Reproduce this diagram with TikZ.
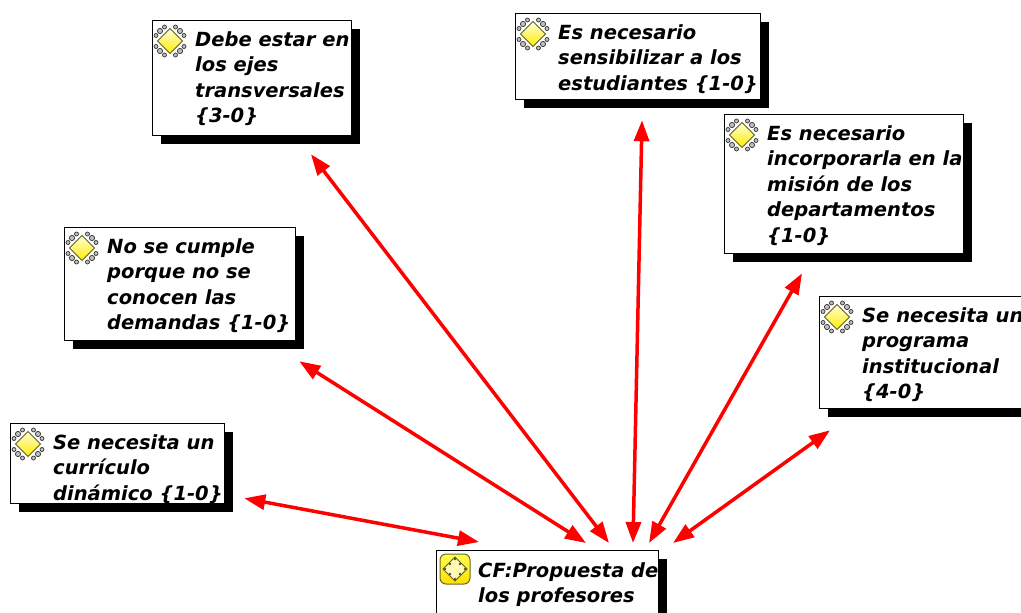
\documentclass[tikz,border=0pt]{standalone}
\usepackage{fontspec}
\setmainfont{DejaVu Sans}
\usetikzlibrary{arrows.meta}
\usetikzlibrary{shadows}

\tikzset{
	box/.style={draw, line width=1.3pt, fill=white, inner sep=0pt, anchor=north west,
		drop shadow={shadow xshift=8pt, shadow yshift=-8pt, fill=black, opacity=1}},
	boxtext/.style={anchor=north west, inner sep=0pt, align=left,
		font=\bfseries\itshape\fontsize{19.5}{25.5}\selectfont},
	link/.style={red, line width=3.5pt,
		{Triangle[length=21pt,width=15pt]}-{Triangle[length=21pt,width=15pt]}},
	idea icon/.pic={
		\foreach \sx in {-1,1} \foreach \sy in {-1,1} {
			\draw [gray!40!black, line width=0.7pt, fill=gray!50] (\sx*10,\sy*10) circle (2.6);
			\draw [gray!40!black, line width=0.7pt, fill=gray!50] (\sx*14,\sy*5.5) circle (2);
			\draw [gray!40!black, line width=0.7pt, fill=gray!50] (\sx*5.5,\sy*14) circle (2);
		}
		\draw [olive!60!black, line width=0.9pt, top color=yellow!15, bottom color=yellow!85!orange]
			(0,-12.5) -- (12.5,0) -- (0,12.5) -- (-12.5,0) -- cycle;
	},
	cf icon/.pic={
		\draw [olive!70!black, line width=1pt, top color=yellow!70, bottom color=yellow!75!orange,
			rounded corners=6pt] (-15,-15) rectangle (15,15);
		\draw [olive!60!black, line width=0.9pt, fill=yellow!30] (0,-12) -- (12,0) -- (0,12) -- (-12,0) -- cycle;
		\foreach \p in {(0,-10),(10,0),(0,10),(-10,0),(5,-5),(5,5),(-5,5),(-5,-5)}
			\fill [black!70] \p circle (1.4);
	}
}

\begin{document}
\begin{tikzpicture}[x=1pt,y=-1pt]
	\useasboundingbox (0,0) rectangle (1021,613);
	\clip (0,0) rectangle (1021,613);

	% boxes
	\node [box, minimum width=199pt, minimum height=115pt] (b1) at (152,20) {};
	\node [box, minimum width=245pt, minimum height=86pt] (b2) at (515,13) {};
	\node [box, minimum width=239pt, minimum height=139pt] (b3) at (724,114) {};
	\node [box, minimum width=231pt, minimum height=113pt] (b4) at (64,227) {};
	\node [box, minimum width=225pt, minimum height=112pt] (b5) at (819,296) {};
	\node [box, minimum width=214pt, minimum height=80pt] (b6) at (10,423) {};
	\node [box, minimum width=222pt, minimum height=63pt] (cf) at (436,550) {};

	% icons
	\foreach \b in {b1,b2,b3,b4,b5,b6}
		\pic at ([xshift=18pt,yshift=-21pt]\b.north west) {idea icon};
	\pic at ([xshift=19pt,yshift=-19pt]cf.north west) {cf icon};

	% texts
	\node [boxtext] (t1) at ([xshift=43pt,yshift=-11pt]b1.north west)
		{Debe estar en\\los ejes\\transversales\\\{3-0\}};
	\node [boxtext] (t2) at ([xshift=43pt,yshift=-11pt]b2.north west)
		{Es necesario\\sensibilizar a los\\estudiantes \{1-0\}};
	\node [boxtext] (t3) at ([xshift=43pt,yshift=-11pt]b3.north west)
		{Es necesario\\incorporarla en la\\misión de los\\departamentos\\\{1-0\}};
	\node [boxtext] (t4) at ([xshift=43pt,yshift=-11pt]b4.north west)
		{No se cumple\\porque no se\\conocen las\\demandas \{1-0\}};
	\node [boxtext] (t5) at ([xshift=43pt,yshift=-11pt]b5.north west)
		{Se necesita un\\programa\\institucional\\\{4-0\}};
	\node [boxtext] (t6) at ([xshift=43pt,yshift=-11pt]b6.north west)
		{Se necesita un\\currículo\\dinámico \{1-0\}};
	\node [boxtext] (tcf) at ([xshift=42pt,yshift=-12pt]cf.north west)
		{CF:Propuesta de\\los profesores};

	% links
	\draw [link] ([xshift=159pt,yshift=-18pt]b1.south west) -- ([xshift=173pt,yshift=7pt]cf.north west);
	\draw [link] ([xshift=127pt,yshift=-20pt]b2.south west) -- ([xshift=197pt,yshift=7pt]cf.north west);
	\draw [link] ([xshift=78pt,yshift=-19pt]b3.south west) -- ([xshift=213pt,yshift=7pt]cf.north west);
	\draw [link] ([xshift=3pt,yshift=-20pt]b4.south east) -- ([xshift=150pt,yshift=7pt]cf.north west);
	\draw [link] ([xshift=11pt,yshift=-21pt]b5.south west) -- ([xshift=237pt,yshift=7pt]cf.north west);
	\draw [link] ([xshift=19pt,yshift=6pt]b6.south east) -- ([xshift=43pt,yshift=8pt]cf.north west);
\end{tikzpicture}
\end{document}
